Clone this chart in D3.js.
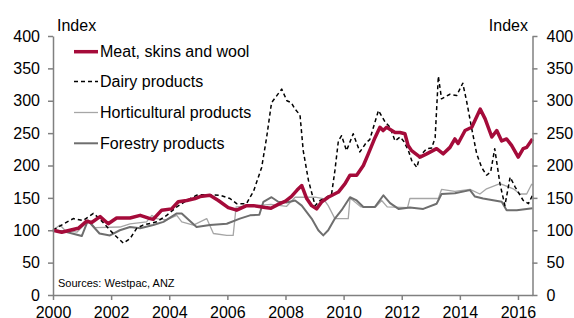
<!DOCTYPE html>
<html><head><meta charset="utf-8">
<script src="https://cdn.jsdelivr.net/npm/d3@7/dist/d3.min.js"></script>
<style>
html,body{margin:0;padding:0;background:#fff;}
svg{display:block;font-family:"Liberation Sans",Arial,sans-serif;}
</style></head>
<body>
<svg id="c" width="574" height="318"></svg>
<script>
const xTicks = [2000, 2002, 2004, 2006, 2008, 2010, 2012, 2014, 2016];
const yTicks = [0, 50, 100, 150, 200, 250, 300, 350, 400];
const seriesNames = ["Meat, skins and wool", "Dairy products", "Horticultural products", "Forestry products"];

const meat = [[2000.0,100],[2000.3,97],[2000.58,100],[2000.87,103],[2001.16,114],[2001.33,112],[2001.62,121],[2001.9,110],[2002.19,119],[2002.65,119],[2003.0,123],[2003.34,118],[2003.45,117],[2003.74,131],[2004.08,133],[2004.31,144],[2004.6,146],[2004.89,149],[2005.06,152],[2005.4,154],[2005.69,146],[2006.03,135],[2006.32,131],[2006.66,138],[2006.89,138],[2007.3,135],[2007.5,134],[2007.75,140],[2008.0,145],[2008.2,152],[2008.4,162],[2008.56,169],[2008.73,149],[2008.9,138],[2009.07,133],[2009.25,144],[2009.47,151],[2009.82,159],[2010.05,172],[2010.22,185],[2010.45,185],[2010.68,200],[2010.85,218],[2011.08,243],[2011.25,259],[2011.36,254],[2011.48,259],[2011.77,251],[2011.94,251],[2012.11,249],[2012.22,231],[2012.34,223],[2012.63,213],[2012.86,218],[2013.2,226],[2013.43,218],[2013.66,228],[2013.83,241],[2013.94,234],[2014.18,254],[2014.41,259],[2014.7,287],[2014.87,272],[2015.1,244],[2015.27,254],[2015.44,238],[2015.61,241],[2015.78,231],[2016.01,213],[2016.18,226],[2016.3,228],[2016.5,241]];

const dairy = [[2000.0,100],[2000.41,111],[2000.7,118],[2001.04,115],[2001.39,126],[2001.6,118],[2001.8,108],[2002.07,95],[2002.42,80],[2002.65,87],[2002.88,103],[2003.1,108],[2003.57,113],[2003.91,123],[2004.26,136],[2004.6,146],[2004.94,154],[2005.06,155],[2005.75,154],[2006.09,149],[2006.32,141],[2006.66,141],[2006.78,151],[2006.9,160],[2007.18,197],[2007.35,243],[2007.52,297],[2007.87,318],[2008.05,300],[2008.2,297],[2008.33,287],[2008.5,278],[2008.61,223],[2008.79,177],[2009.02,138],[2009.19,146],[2009.42,151],[2009.59,157],[2009.7,192],[2009.82,238],[2009.93,246],[2010.1,223],[2010.33,249],[2010.56,221],[2010.79,236],[2010.9,240],[2011.2,285],[2011.43,267],[2011.6,259],[2011.77,238],[2011.94,244],[2012.06,238],[2012.23,223],[2012.34,208],[2012.52,197],[2012.63,215],[2012.86,226],[2013.03,227],[2013.15,243],[2013.26,338],[2013.37,303],[2013.66,310],[2013.89,308],[2014.1,327],[2014.23,300],[2014.4,259],[2014.58,218],[2014.75,197],[2014.92,185],[2015.06,190],[2015.2,226],[2015.38,172],[2015.55,138],[2015.73,182],[2015.9,167],[2016.18,146],[2016.36,141],[2016.5,154]];

const horti = [[2000.0,100],[2000.24,108],[2000.41,100],[2000.82,97],[2001.22,115],[2001.45,104],[2002.3,105],[2002.65,110],[2003.22,113],[2003.4,123],[2003.57,118],[2003.91,116],[2004.26,123],[2004.43,113],[2004.83,108],[2005.29,118],[2005.52,95],[2005.98,92],[2006.2,92],[2006.3,136],[2006.6,137],[2007.0,138],[2007.5,140],[2008.04,137],[2008.33,151],[2009.02,151],[2009.3,149],[2009.47,138],[2009.7,118],[2010.16,118],[2010.22,149],[2010.33,146],[2010.6,136],[2011.1,136],[2011.31,146],[2011.5,136],[2012.2,135],[2012.28,149],[2013.26,149],[2013.37,163],[2013.83,160],[2014.35,163],[2014.69,156],[2014.92,164],[2015.38,172],[2015.84,164],[2016.07,156],[2016.3,156],[2016.47,171],[2016.5,170]];

const forest = [[2000.0,100],[2000.4,98],[2000.99,91],[2001.2,115],[2001.6,95],[2001.96,92],[2002.3,100],[2002.65,105],[2003.0,103],[2003.45,108],[2003.8,113],[2004.26,126],[2004.43,126],[2004.94,105],[2005.4,108],[2005.98,110],[2006.43,118],[2006.78,123],[2007.1,124],[2007.24,144],[2007.52,151],[2007.75,144],[2008.04,143],[2008.33,146],[2008.56,138],[2008.9,118],[2009.13,100],[2009.3,92],[2009.47,100],[2009.7,118],[2009.93,131],[2010.22,151],[2010.45,146],[2010.68,136],[2011.08,136],[2011.37,154],[2011.6,142],[2011.89,133],[2012.28,135],[2012.74,133],[2013.2,141],[2013.37,156],[2013.83,157],[2014.35,162],[2014.52,152],[2014.8,149],[2015.44,144],[2015.61,131],[2015.96,131],[2016.5,134]];

const svg = d3.select("#c");
const mLeft = 53, mRight = 532.5, mTop = 36, mBottom = 295;
const x = d3.scaleLinear().domain([2000, 2016.5]).range([mLeft, mRight]);
const y = d3.scaleLinear().domain([0, 400]).range([mBottom, mTop]);
const axisColor = "#808080";
const fs = "16px";

const line = d3.line().x(d => x(d[0])).y(d => y(d[1]));

const styles = [
  {data: horti, color: "#a6a6a6", w: 1.3, dash: null},
  {data: forest, color: "#6e6e6e", w: 2, dash: null},
  {data: dairy, color: "#000000", w: 1.5, dash: "4,3"},
  {data: meat, color: "#a50b3a", w: 3.5, dash: null}
];
styles.forEach(s => {
  svg.append("path").datum(s.data).attr("d", line)
    .attr("fill", "none").attr("stroke", s.color).attr("stroke-width", s.w)
    .attr("stroke-linejoin", "round")
    .attr("stroke-dasharray", s.dash);
});

// axes
const gl = svg.append("g").attr("transform", `translate(${mLeft},0)`)
  .call(d3.axisLeft(y).tickValues(yTicks).tickSize(5).tickPadding(8).tickSizeOuter(0));
const gr = svg.append("g").attr("transform", `translate(${mRight},0)`)
  .call(d3.axisRight(y).tickValues(yTicks).tickSize(5).tickPadding(9).tickSizeOuter(0));
const gb = svg.append("g").attr("transform", `translate(0,${mBottom})`)
  .call(d3.axisBottom(x).tickValues(xTicks).tickFormat(d3.format("d")).tickSize(5).tickPadding(7).tickSizeOuter(0));
[gl, gr, gb].forEach(g => {
  g.selectAll(".domain").attr("stroke", axisColor).attr("stroke-width", 1.5);
  g.selectAll(".tick line").attr("stroke", axisColor).attr("stroke-width", 1.5);
  g.selectAll("text").attr("fill", "#000").style("font-size", fs)
    .style("font-family", "'Liberation Sans', Arial, sans-serif");
});

svg.append("text").attr("x", 57).attr("y", 30.5).text("Index")
  .style("font-size", fs).attr("fill", "#000");
svg.append("text").attr("x", 528).attr("y", 30.5).attr("text-anchor", "end").text("Index")
  .style("font-size", fs).attr("fill", "#000");

svg.append("text").attr("x", 58).attr("y", 287).text("Sources: Westpac, ANZ")
  .style("font-size", "11px").attr("fill", "#000");

// legend
const legendStyles = [styles[3], styles[2], styles[0], styles[1]];
const rowY = [51.7, 81.5, 112.5, 143.3];
seriesNames.forEach((n, i) => {
  const s = legendStyles[i];
  svg.append("line").attr("x1", 74).attr("x2", 98).attr("y1", rowY[i]).attr("y2", rowY[i])
    .attr("stroke", s.color).attr("stroke-width", s.w).attr("stroke-dasharray", s.dash);
  svg.append("text").attr("x", 100).attr("y", rowY[i] + 5.7).text(n)
    .style("font-size", fs).attr("fill", "#000");
});
</script>
</body></html>
